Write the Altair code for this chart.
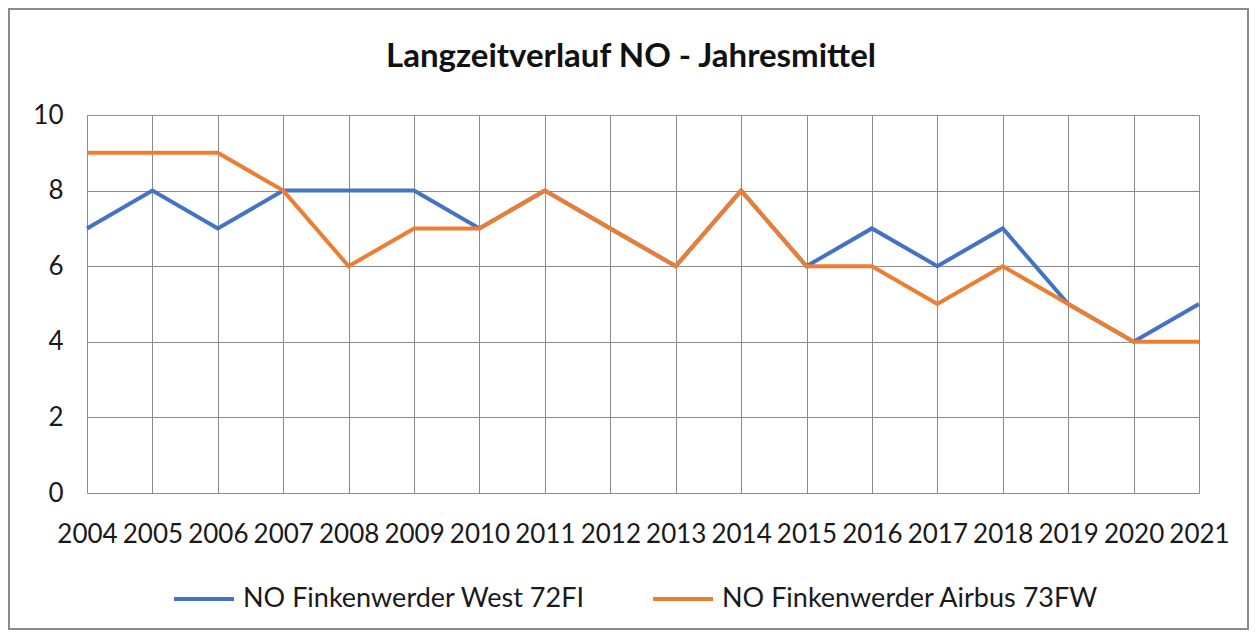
import altair as alt
import pandas as pd

years = [str(y) for y in range(2004, 2022)]
west = [7, 8, 7, 8, 8, 8, 7, 8, 7, 6, 8, 6, 7, 6, 7, 5, 4, 5]
airbus = [9, 9, 9, 8, 6, 7, 7, 8, 7, 6, 8, 6, 6, 5, 6, 5, 4, 4]
series = ["NO Finkenwerder West 72FI", "NO Finkenwerder Airbus 73FW"]
colors = ["#4472C4", "#ED7D31"]
title_text = "Langzeitverlauf NO - Jahresmittel"

rows = []
for y, v in zip(years, west):
    rows.append({"Jahr": y, "Wert": v, "Serie": series[0]})
for y, v in zip(years, airbus):
    rows.append({"Jahr": y, "Wert": v, "Serie": series[1]})
df = pd.DataFrame(rows)

FONT = "Lato"
W, H = 1112, 378

x_enc = alt.X("Jahr:O", sort=years,
              scale=alt.Scale(type="point", padding=0),
              axis=alt.Axis(title=None, labelAngle=0, labelFontSize=26, labelFont=FONT,
                            labelColor="#1a1a1a", labelPadding=28, ticks=False, domain=False,
                            grid=True, gridColor="#8c8c8c", gridWidth=1))
y_enc = alt.Y("Wert:Q", scale=alt.Scale(domain=[0, 10], nice=False),
              axis=alt.Axis(title=None, values=[0, 2, 4, 6, 8, 10], labelFontSize=26,
                            labelFont=FONT, labelColor="#1a1a1a", labelPadding=24,
                            ticks=False, domain=False, grid=True, gridColor="#8c8c8c",
                            gridWidth=1))
color_enc = alt.Color("Serie:N", scale=alt.Scale(domain=series, range=colors),
                      legend=alt.Legend(title=None, orient="none", direction="horizontal",
                                        legendX=85, legendY=452, symbolType="stroke",
                                        symbolSize=3600, symbolStrokeWidth=4,
                                        labelFontSize=27, labelFont=FONT, labelColor="#1a1a1a",
                                        labelOffset=7, columnPadding=60, labelLimit=600))

base = alt.Chart(df)
line_west = base.transform_filter(alt.datum.Serie == series[0]).mark_line(strokeWidth=4).encode(
    x=x_enc, y=y_enc, color=color_enc)
line_airbus = base.transform_filter(alt.datum.Serie == series[1]).mark_line(strokeWidth=4).encode(
    x=x_enc, y=y_enc, color=color_enc)

border = alt.Chart(pd.DataFrame({"a": [0]})).mark_rect(
    fill=None, stroke="#8a8a8a", strokeWidth=2).encode(
    x=alt.value(-78), x2=alt.value(1161), y=alt.value(-106), y2=alt.value(514))

chart = alt.layer(line_west, line_airbus, border).properties(
    width=W, height=H,
    title=alt.TitleParams(title_text, font=FONT, fontSize=33, fontWeight="bold",
                          color="#111111", anchor="middle", offset=-66, dx=-12),
    padding={"left": 79, "top": 107, "right": 53, "bottom": 138},
    autosize=alt.AutoSizeParams(type="none"),
).configure_view(stroke="#8c8c8c", strokeWidth=1).configure(background="white")

chart.save("out.html", embed_options={"renderer": "svg", "actions": False})
